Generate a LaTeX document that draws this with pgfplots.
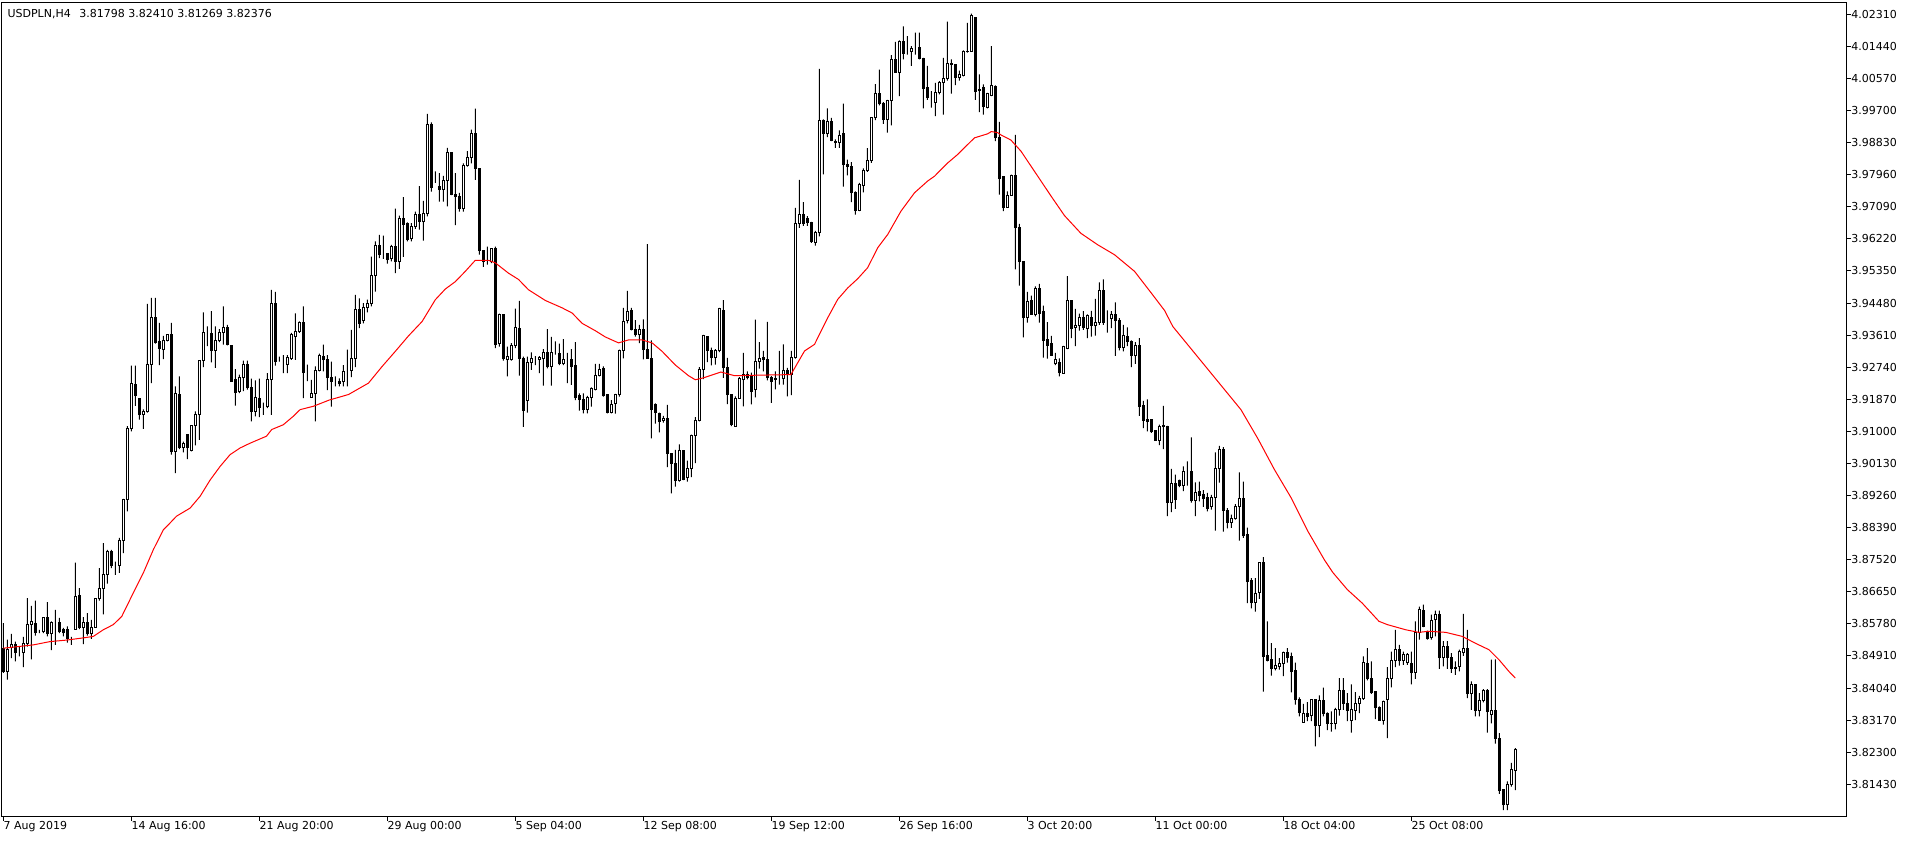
\documentclass[border=0pt]{standalone}
\usepackage{fontspec}
\setmainfont{DejaVu Sans}
\usepackage{pgfplots}
\usepackage{pgfplotstable}
\pgfplotsset{compat=1.18}

% USDPLN H4 candles: index, open, high, low, close
\pgfplotstableread{
i o h l c
0 3.8512 3.8580 3.8445 3.8449
1 3.8449 3.8535 3.8427 3.8509
2 3.8514 3.8551 3.8485 3.8521
3 3.8521 3.8530 3.8476 3.8500
4 3.8503 3.8516 3.8490 3.8503
5 3.8500 3.8543 3.8461 3.8525
6 3.8525 3.8648 3.8516 3.8577
7 3.8577 3.8627 3.8482 3.8585
8 3.8580 3.8641 3.8546 3.8555
9 3.8558 3.8562 3.8553 3.8558
10 3.8558 3.8594 3.8553 3.8594
11 3.8594 3.8637 3.8544 3.8551
12 3.8551 3.8585 3.8507 3.8583
13 3.8583 3.8616 3.8521 3.8583
14 3.8583 3.8594 3.8553 3.8558
15 3.8564 3.8567 3.8544 3.8555
16 3.8562 3.8571 3.8527 3.8538
17 3.8535 3.8543 3.8521 3.8535
18 3.8564 3.8744 3.8562 3.8653
19 3.8655 3.8675 3.8564 3.8567
20 3.8567 3.8596 3.8523 3.8583
21 3.8583 3.8607 3.8546 3.8551
22 3.8551 3.8589 3.8537 3.8569
23 3.8569 3.8648 3.8567 3.8646
24 3.8646 3.8729 3.8641 3.8675
25 3.8675 3.8797 3.8604 3.8713
26 3.8713 3.8779 3.8687 3.8775
27 3.8775 3.8779 3.8729 3.8735
28 3.8735 3.8747 3.8711 3.8735
29 3.8735 3.8811 3.8716 3.8804
30 3.8804 3.8917 3.8770 3.8916
31 3.8916 3.9114 3.8883 3.9109
32 3.9109 3.9278 3.9100 3.9229
33 3.9227 3.9278 3.9169 3.9196
34 3.9190 3.9190 3.9132 3.9145
35 3.9146 3.9160 3.9107 3.9153
36 3.9153 3.9446 3.9151 3.9282
37 3.9282 3.9462 3.9231 3.9410
38 3.9410 3.9462 3.9338 3.9342
39 3.9344 3.9394 3.9280 3.9326
40 3.9322 3.9359 3.9296 3.9347
41 3.9347 3.9362 3.9344 3.9362
42 3.9362 3.9394 3.9037 3.9046
43 3.9046 3.9222 3.8987 3.9203
44 3.9200 3.9249 3.9052 3.9057
45 3.9057 3.9072 3.9043 3.9068
46 3.9091 3.9091 3.9025 3.9057
47 3.9048 3.9116 3.9046 3.9116
48 3.9116 3.9154 3.9062 3.9147
49 3.9147 3.9291 3.9077 3.9291
50 3.9291 3.9423 3.9274 3.9369
51 3.9368 3.9385 3.9331 3.9368
52 3.9365 3.9426 3.9287 3.9320
53 3.9320 3.9385 3.9272 3.9346
54 3.9346 3.9377 3.9342 3.9368
55 3.9368 3.9439 3.9335 3.9383
56 3.9383 3.9389 3.9333 3.9335
57 3.9333 3.9333 3.9234 3.9236
58 3.9240 3.9269 3.9170 3.9206
59 3.9209 3.9254 3.9204 3.9245
60 3.9245 3.9292 3.9209 3.9281
61 3.9281 3.9292 3.9213 3.9218
62 3.9218 3.9243 3.9127 3.9154
63 3.9154 3.9238 3.9141 3.9193
64 3.9190 3.9243 3.9139 3.9166
65 3.9168 3.9178 3.9145 3.9168
66 3.9168 3.9258 3.9163 3.9240
67 3.9240 3.9484 3.9145 3.9446
68 3.9446 3.9478 3.9278 3.9289
69 3.9292 3.9303 3.9289 3.9292
70 3.9287 3.9307 3.9258 3.9287
71 3.9281 3.9307 3.9258 3.9301
72 3.9297 3.9367 3.9294 3.9362
73 3.9358 3.9420 3.9294 3.9371
74 3.9371 3.9398 3.9367 3.9395
75 3.9395 3.9439 3.9190 3.9260
76 3.9260 3.9281 3.9236 3.9260
77 3.9193 3.9240 3.9192 3.9204
78 3.9204 3.9276 3.9127 3.9264
79 3.9264 3.9311 3.9263 3.9305
80 3.9303 3.9335 3.9263 3.9294
81 3.9294 3.9307 3.9212 3.9246
82 3.9247 3.9289 3.9167 3.9235
83 3.9237 3.9249 3.9222 3.9237
84 3.9234 3.9244 3.9222 3.9231
85 3.9234 3.9280 3.9222 3.9262
86 3.9264 3.9322 3.9222 3.9264
87 3.9264 3.9375 3.9247 3.9298
88 3.9298 3.9470 3.9274 3.9430
89 3.9430 3.9461 3.9380 3.9393
90 3.9402 3.9448 3.9393 3.9437
91 3.9435 3.9457 3.9423 3.9448
92 3.9448 3.9574 3.9439 3.9524
93 3.9524 3.9615 3.9479 3.9603
94 3.9603 3.9633 3.9570 3.9581
95 3.9582 3.9631 3.9568 3.9582
96 3.9582 3.9583 3.9555 3.9567
97 3.9570 3.9606 3.9561 3.9601
98 3.9601 3.9704 3.9529 3.9561
99 3.9561 3.9685 3.9541 3.9676
100 3.9676 3.9735 3.9573 3.9662
101 3.9665 3.9667 3.9615 3.9621
102 3.9624 3.9665 3.9615 3.9656
103 3.9656 3.9696 3.9649 3.9689
104 3.9689 3.9765 3.9647 3.9670
105 3.9670 3.9725 3.9617 3.9692
106 3.9692 3.9961 3.9683 3.9931
107 3.9931 3.9938 3.9750 3.9760
108 3.9782 3.9805 3.9774 3.9782
109 3.9763 3.9800 3.9723 3.9757
110 3.9757 3.9793 3.9723 3.9780
111 3.9780 3.9869 3.9710 3.9857
112 3.9857 3.9857 3.9741 3.9743
113 3.9743 3.9800 3.9659 3.9737
114 3.9737 3.9747 3.9696 3.9705
115 3.9705 3.9827 3.9696 3.9821
116 3.9821 3.9860 3.9818 3.9843
117 3.9843 3.9918 3.9827 3.9909
118 3.9909 3.9975 3.9782 3.9814
119 3.9814 3.9814 3.9579 3.9591
120 3.9591 3.9591 3.9546 3.9561
121 3.9564 3.9601 3.9552 3.9564
122 3.9561 3.9597 3.9556 3.9597
123 3.9597 3.9601 3.9326 3.9335
124 3.9338 3.9419 3.9330 3.9417
125 3.9417 3.9417 3.9292 3.9298
126 3.9295 3.9330 3.9249 3.9303
127 3.9295 3.9339 3.9292 3.9332
128 3.9332 3.9433 3.9326 3.9382
129 3.9380 3.9454 3.9251 3.9298
130 3.9298 3.9303 3.9112 3.9156
131 3.9185 3.9303 3.9151 3.9287
132 3.9287 3.9314 3.9267 3.9297
133 3.9298 3.9304 3.9280 3.9298
134 3.9295 3.9304 3.9258 3.9300
135 3.9298 3.9323 3.9224 3.9313
136 3.9313 3.9377 3.9271 3.9276
137 3.9276 3.9356 3.9224 3.9313
138 3.9313 3.9344 3.9308 3.9313
139 3.9311 3.9338 3.9280 3.9283
140 3.9283 3.9350 3.9280 3.9295
141 3.9295 3.9313 3.9231 3.9295
142 3.9295 3.9323 3.9226 3.9276
143 3.9278 3.9342 3.9185 3.9192
144 3.9196 3.9203 3.9156 3.9187
145 3.9187 3.9203 3.9149 3.9160
146 3.9160 3.9196 3.9149 3.9192
147 3.9192 3.9219 3.9167 3.9216
148 3.9213 3.9283 3.9211 3.9251
149 3.9251 3.9283 3.9249 3.9269
150 3.9271 3.9276 3.9194 3.9196
151 3.9199 3.9199 3.9149 3.9151
152 3.9151 3.9185 3.9149 3.9174
153 3.9176 3.9202 3.9148 3.9200
154 3.9200 3.9322 3.9194 3.9319
155 3.9319 3.9435 3.9298 3.9399
156 3.9400 3.9481 3.9393 3.9424
157 3.9428 3.9435 3.9374 3.9375
158 3.9375 3.9402 3.9357 3.9364
159 3.9362 3.9389 3.9339 3.9375
160 3.9375 3.9404 3.9295 3.9322
161 3.9322 3.9608 3.9298 3.9298
162 3.9298 3.9347 3.9081 3.9160
163 3.9172 3.9176 3.9121 3.9151
164 3.9149 3.9151 3.9097 3.9127
165 3.9129 3.9142 3.9124 3.9136
166 3.9136 3.9172 3.9003 3.9041
167 3.9041 3.9041 3.8932 3.9014
168 3.9014 3.9050 3.8950 3.8968
169 3.8968 3.9065 3.8964 3.9047
170 3.9047 3.9047 3.8968 3.8970
171 3.8976 3.9021 3.8964 3.8998
172 3.8998 3.9091 3.8976 3.9088
173 3.9088 3.9139 3.9014 3.9129
174 3.9129 3.9274 3.9127 3.9269
175 3.9269 3.9362 3.9242 3.9359
176 3.9358 3.9358 3.9288 3.9318
177 3.9318 3.9327 3.9279 3.9301
178 3.9301 3.9323 3.9281 3.9318
179 3.9318 3.9435 3.9315 3.9433
180 3.9429 3.9456 3.9245 3.9274
181 3.9274 3.9299 3.9174 3.9201
182 3.9201 3.9201 3.9114 3.9119
183 3.9114 3.9195 3.9112 3.9189
184 3.9189 3.9247 3.9189 3.9243
185 3.9241 3.9313 3.9168 3.9254
186 3.9254 3.9263 3.9241 3.9245
187 3.9248 3.9259 3.9173 3.9209
188 3.9214 3.9403 3.9192 3.9290
189 3.9290 3.9342 3.9270 3.9297
190 3.9299 3.9318 3.9263 3.9295
191 3.9295 3.9397 3.9238 3.9245
192 3.9245 3.9250 3.9177 3.9236
193 3.9241 3.9263 3.9214 3.9243
194 3.9243 3.9318 3.9227 3.9243
195 3.9243 3.9336 3.9227 3.9265
196 3.9265 3.9272 3.9195 3.9254
197 3.9254 3.9318 3.9198 3.9299
198 3.9299 3.9706 3.9297 3.9664
199 3.9664 3.9782 3.9652 3.9688
200 3.9688 3.9722 3.9657 3.9663
201 3.9678 3.9684 3.9657 3.9666
202 3.9666 3.9668 3.9611 3.9614
203 3.9613 3.9644 3.9604 3.9639
204 3.9639 4.0083 3.9629 3.9944
205 3.9944 3.9946 3.9797 3.9908
206 3.9908 3.9976 3.9898 3.9939
207 3.9939 3.9950 3.9887 3.9889
208 3.9887 3.9892 3.9869 3.9883
209 3.9883 3.9916 3.9869 3.9903
210 3.9907 3.9989 3.9764 3.9824
211 3.9825 3.9837 3.9794 3.9817
212 3.9817 3.9830 3.9722 3.9747
213 3.9749 3.9751 3.9688 3.9699
214 3.9699 3.9774 3.9697 3.9770
215 3.9768 3.9813 3.9748 3.9808
216 3.9808 3.9868 3.9804 3.9835
217 3.9835 3.9952 3.9828 3.9950
218 3.9950 4.0042 3.9944 4.0017
219 4.0017 4.0081 3.9984 3.9988
220 3.9990 3.9993 3.9934 3.9946
221 3.9946 3.9999 3.9910 3.9998
222 3.9998 4.0120 3.9930 4.0109
223 4.0109 4.0156 4.0072 4.0074
224 4.0074 4.0160 4.0009 4.0156
225 4.0156 4.0198 4.0109 4.0125
226 4.0127 4.0172 4.0122 4.0127
227 4.0129 4.0145 4.0091 4.0139
228 4.0140 4.0181 4.0122 4.0140
229 4.0142 4.0181 4.0109 4.0112
230 4.0112 4.0113 3.9976 4.0030
231 4.0032 4.0091 3.9999 4.0005
232 3.9992 4.0023 3.9978 3.9992
233 3.9992 4.0045 3.9955 4.0018
234 4.0018 4.0050 4.0014 4.0045
235 4.0045 4.0113 3.9959 4.0057
236 4.0057 4.0211 4.0051 4.0098
237 4.0098 4.0109 4.0016 4.0094
238 4.0094 4.0096 4.0039 4.0059
239 4.0059 4.0078 4.0051 4.0068
240 4.0065 4.0133 4.0063 4.0130
241 4.0130 4.0208 4.0127 4.0131
242 4.0131 4.0233 4.0131 4.0229
243 4.0222 4.0222 3.9999 4.0023
244 4.0027 4.0068 3.9966 4.0025
245 4.0032 4.0041 3.9959 3.9980
246 3.9978 4.0018 3.9976 4.0016
247 4.0012 4.0145 4.0009 4.0039
248 4.0036 4.0038 3.9887 3.9896
249 3.9896 3.9939 3.9742 3.9786
250 3.9790 3.9790 3.9697 3.9708
251 3.9708 3.9751 3.9706 3.9740
252 3.9741 3.9796 3.9739 3.9793
253 3.9793 3.9904 3.9539 3.9652
254 3.9654 3.9663 3.9495 3.9561
255 3.9561 3.9561 3.9355 3.9408
256 3.9408 3.9478 3.9395 3.9451
257 3.9454 3.9468 3.9417 3.9417
258 3.9417 3.9493 3.9412 3.9488
259 3.9488 3.9500 3.9395 3.9421
260 3.9424 3.9441 3.9300 3.9347
261 3.9348 3.9396 3.9297 3.9333
262 3.9337 3.9359 3.9306 3.9307
263 3.9283 3.9313 3.9280 3.9295
264 3.9287 3.9298 3.9249 3.9260
265 3.9258 3.9332 3.9256 3.9329
266 3.9326 3.9521 3.9323 3.9454
267 3.9454 3.9455 3.9353 3.9380
268 3.9382 3.9432 3.9331 3.9387
269 3.9387 3.9419 3.9373 3.9410
270 3.9410 3.9426 3.9375 3.9382
271 3.9380 3.9417 3.9353 3.9414
272 3.9410 3.9427 3.9357 3.9387
273 3.9387 3.9459 3.9360 3.9396
274 3.9396 3.9504 3.9389 3.9481
275 3.9481 3.9512 3.9389 3.9395
276 3.9407 3.9428 3.9368 3.9407
277 3.9407 3.9426 3.9380 3.9417
278 3.9417 3.9450 3.9305 3.9402
279 3.9402 3.9407 3.9320 3.9328
280 3.9328 3.9389 3.9317 3.9359
281 3.9356 3.9382 3.9331 3.9344
282 3.9344 3.9347 3.9274 3.9305
283 3.9305 3.9342 3.9283 3.9333
284 3.9333 3.9353 3.9142 3.9167
285 3.9169 3.9183 3.9109 3.9130
286 3.9131 3.9187 3.9100 3.9127
287 3.9131 3.9131 3.9096 3.9100
288 3.9103 3.9103 3.9074 3.9075
289 3.9075 3.9118 3.9063 3.9112
290 3.9115 3.9169 3.9052 3.9112
291 3.9112 3.9115 3.8870 3.8906
292 3.8906 3.8998 3.8881 3.8960
293 3.8960 3.8983 3.8890 3.8916
294 3.8967 3.8969 3.8949 3.8953
295 3.8953 3.9005 3.8938 3.8990
296 3.8990 3.9019 3.8953 3.8990
297 3.8990 3.9084 3.8907 3.8913
298 3.8913 3.8962 3.8870 3.8934
299 3.8936 3.8964 3.8910 3.8925
300 3.8928 3.8941 3.8895 3.8919
301 3.8922 3.8933 3.8883 3.8892
302 3.8895 3.8928 3.8888 3.8922
303 3.8922 3.9043 3.8831 3.8998
304 3.8998 3.9061 3.8961 3.9050
305 3.9050 3.9057 3.8828 3.8886
306 3.8886 3.8892 3.8837 3.8853
307 3.8853 3.8874 3.8838 3.8863
308 3.8864 3.8903 3.8861 3.8895
309 3.8897 3.8989 3.8804 3.8919
310 3.8919 3.8964 3.8811 3.8817
311 3.8820 3.8839 3.8634 3.8693
312 3.8695 3.8702 3.8620 3.8636
313 3.8636 3.8702 3.8611 3.8660
314 3.8664 3.8745 3.8646 3.8745
315 3.8745 3.8759 3.8394 3.8489
316 3.8491 3.8585 3.8476 3.8479
317 3.8481 3.8526 3.8438 3.8458
318 3.8458 3.8512 3.8452 3.8464
319 3.8463 3.8485 3.8454 3.8470
320 3.8470 3.8503 3.8436 3.8501
321 3.8501 3.8512 3.8473 3.8488
322 3.8489 3.8500 3.8392 3.8449
323 3.8451 3.8473 3.8359 3.8374
324 3.8374 3.8379 3.8327 3.8338
325 3.8311 3.8361 3.8311 3.8336
326 3.8336 3.8366 3.8314 3.8327
327 3.8329 3.8374 3.8314 3.8372
328 3.8372 3.8374 3.8246 3.8303
329 3.8303 3.8384 3.8271 3.8369
330 3.8369 3.8405 3.8327 3.8334
331 3.8334 3.8338 3.8290 3.8307
332 3.8309 3.8341 3.8286 3.8307
333 3.8309 3.8350 3.8292 3.8347
334 3.8347 3.8431 3.8329 3.8396
335 3.8396 3.8431 3.8345 3.8361
336 3.8363 3.8390 3.8314 3.8343
337 3.8317 3.8414 3.8283 3.8345
338 3.8343 3.8393 3.8317 3.8361
339 3.8363 3.8383 3.8336 3.8377
340 3.8377 3.8490 3.8372 3.8472
341 3.8470 3.8512 3.8425 3.8429
342 3.8429 3.8476 3.8388 3.8392
343 3.8395 3.8395 3.8320 3.8350
344 3.8350 3.8354 3.8317 3.8317
345 3.8317 3.8370 3.8305 3.8368
346 3.8372 3.8461 3.8268 3.8431
347 3.8431 3.8503 3.8406 3.8479
348 3.8479 3.8562 3.8461 3.8509
349 3.8509 3.8521 3.8465 3.8479
350 3.8479 3.8503 3.8467 3.8494
351 3.8472 3.8499 3.8467 3.8494
352 3.8470 3.8503 3.8414 3.8447
353 3.8447 3.8585 3.8429 3.8555
354 3.8555 3.8625 3.8535 3.8616
355 3.8614 3.8630 3.8569 3.8571
356 3.8558 3.8560 3.8535 3.8537
357 3.8540 3.8603 3.8535 3.8587
358 3.8591 3.8614 3.8544 3.8603
359 3.8603 3.8614 3.8456 3.8487
360 3.8487 3.8531 3.8463 3.8518
361 3.8518 3.8531 3.8456 3.8488
362 3.8488 3.8499 3.8445 3.8458
363 3.8461 3.8476 3.8440 3.8456
364 3.8463 3.8508 3.8449 3.8503
365 3.8500 3.8605 3.8491 3.8512
366 3.8512 3.8562 3.8377 3.8388
367 3.8388 3.8422 3.8345 3.8414
368 3.8414 3.8414 3.8327 3.8344
369 3.8344 3.8390 3.8327 3.8370
370 3.8370 3.8401 3.8365 3.8396
371 3.8396 3.8401 3.8283 3.8341
372 3.8332 3.8481 3.8308 3.8343
373 3.8343 3.8482 3.8253 3.8268
374 3.8268 3.8282 3.8117 3.8126
375 3.8128 3.8130 3.8073 3.8088
376 3.8088 3.8151 3.8073 3.8142
377 3.8142 3.8201 3.8137 3.8182
378 3.81798 3.82410 3.81269 3.82376
}\candles

% red moving average
\pgfplotstableread{
i ma
0 3.8512
7.5 3.8521
11.7 3.8530
15.8 3.8534
20 3.8540
22.5 3.8544
25 3.8562
27.5 3.8576
29.6 3.8598
32.5 3.8662
35 3.8716
37.5 3.8779
40 3.8833
41.2 3.8846
43.3 3.8870
46.7 3.8892
49.2 3.8924
51.7 3.8968
54.2 3.9005
56.7 3.9037
59.2 3.9055
61.7 3.9068
65.8 3.9087
67.1 3.9105
70 3.9118
72.5 3.9141
74.2 3.9159
77.5 3.9168
81.5 3.9185
86.3 3.9200
91.3 3.9231
94.7 3.9276
98 3.9317
101.3 3.9359
104.7 3.9398
108 3.9457
110.5 3.9486
113 3.9506
115.5 3.9534
118 3.9564
121.3 3.9564
123 3.9557
126.3 3.9529
128.8 3.9512
131.3 3.9484
135.5 3.9455
139.7 3.9435
142.2 3.9421
144.7 3.9393
148 3.9373
150.5 3.9356
153.8 3.9340
156.3 3.9348
159.7 3.9348
162.2 3.9340
164.7 3.9317
168 3.9280
171.3 3.9251
173 3.9240
175 3.9245
179.4 3.9261
182.8 3.9251
186.9 3.9252
196.9 3.9254
200.3 3.9318
202.8 3.9336
206.1 3.9408
208.6 3.9458
211.1 3.9489
213.6 3.9514
216.1 3.9544
218.6 3.9598
221.1 3.9634
224.4 3.9697
227.8 3.9747
231.1 3.9779
232.8 3.9792
236.1 3.9828
238.6 3.9851
241.1 3.9878
242.8 3.9896
246.1 3.9907
247 3.9913
248.6 3.9910
249.4 3.9904
251.9 3.9890
254.4 3.9860
257.8 3.9805
262 3.9737
265.3 3.9685
269.4 3.9637
273.6 3.9606
277.8 3.9579
282.8 3.9534
287 3.9475
290.3 3.9428
292.4 3.9384
309.4 3.9159
313.6 3.9081
317.8 3.8996
322 3.8919
326.2 3.8828
330.3 3.8751
332.4 3.8717
336 3.8671
339.75 3.8634
343.9 3.8585
346 3.8576
350.6 3.8562
353.9 3.8555
356.4 3.8558
360.6 3.8555
364.75 3.8544
368.1 3.8525
371.4 3.8508
373.9 3.8481
376.4 3.8449
378 3.8431
}\maline

% one pixel of the reference = 0.75pt
\pgfplotsset{
  chartbox/.style={
    scale only axis, width=1383.45pt, height=609.98pt,
    xmin=-0.4, xmax=460.75, ymin=3.8057, ymax=4.02625,
    enlargelimits=false,
  },
}
\newcommand\mtfont{\fontsize{8.25}{9}\selectfont}

\begin{document}
\begin{tikzpicture}
% frame, scales and wicks
\begin{axis}[chartbox, ybar stacked, bar width=0.25,
  axis line style={line width=0.75pt, black},
  tick align=outside, major tick length=3.5pt,
  every tick/.style={black, line width=0.75pt},
  xtick pos=left, ytick pos=right, yticklabel pos=right,
  xtick={0,32,64,96,128,160,192,224,256,288,320,352},
  xticklabels={7 Aug 2019, 14 Aug 16:00, 21 Aug 20:00, 29 Aug 00:00, 5 Sep 04:00, 12 Sep 08:00, 19 Sep 12:00, 26 Sep 16:00, 3 Oct 20:00, 11 Oct 00:00, 18 Oct 04:00, 25 Oct 08:00},
  ytick={3.8143,3.8230,3.8317,3.8404,3.8491,3.8578,3.8665,3.8752,3.8839,3.8926,3.9013,3.9100,3.9187,3.9274,3.9361,3.9448,3.9535,3.9622,3.9709,3.9796,3.9883,3.9970,4.0057,4.0144,4.0231},
  yticklabels={3.81430,3.82300,3.83170,3.84040,3.84910,3.85780,3.86650,3.87520,3.88390,3.89260,3.90130,3.91000,3.91870,3.92740,3.93610,3.94480,3.95350,3.96220,3.97090,3.97960,3.98830,3.99700,4.00570,4.01440,4.02310},
  tick label style={font=\mtfont, text=black},
  xticklabel style={anchor=north west, inner sep=0pt},
  yticklabel style={anchor=west, inner sep=0pt},
]
\addplot[draw=none, fill=none] table[x=i, y=l] {\candles};
\addplot[draw=none, fill=black] table[x=i, y expr=\thisrow{h}-\thisrow{l}] {\candles};
\node[anchor=north west, inner sep=0pt, font=\mtfont, xshift=4.2pt, yshift=-4.5pt]
  at (rel axis cs:0,1) {USDPLN,H4\hspace{6.5pt}3.81798 3.82410 3.81269 3.82376};
\end{axis}
% candle bodies
\begin{axis}[chartbox, hide axis, ybar stacked, bar width=0.5]
\addplot[draw=none, fill=none] table[x=i, y expr={min(\thisrow{o},\thisrow{c})}] {\candles};
\addplot[draw=black, fill=white, line width=0.75pt] table[x=i, y expr={max(\thisrow{c}-\thisrow{o},0)}] {\candles};
\addplot[draw=black, fill=black, line width=0.75pt] table[x=i, y expr={max(\thisrow{o}-\thisrow{c},0)}] {\candles};
\end{axis}
% moving average
\begin{axis}[chartbox, hide axis]
\addplot[red, line width=0.75pt, mark=none] table[x=i, y=ma] {\maline};
\end{axis}
\pgfresetboundingbox
\path[use as bounding box] (-1.275pt,-18pt) rectangle (1435.725pt,612pt);
\end{tikzpicture}
\end{document}
